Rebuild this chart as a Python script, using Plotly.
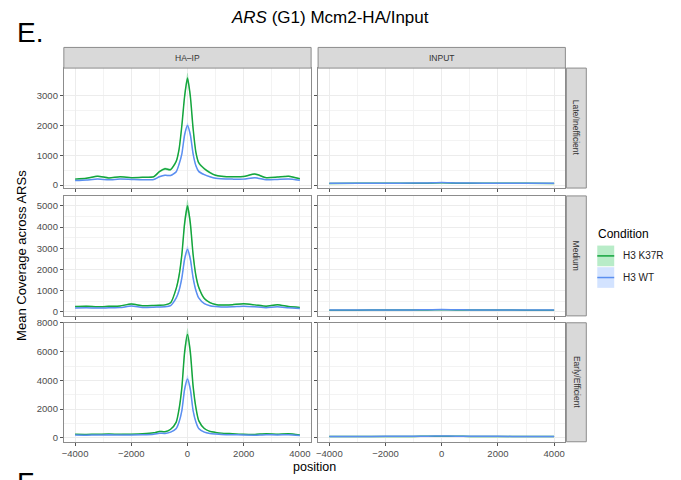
import plotly.graph_objects as go

# ---------------- data ----------------
positions = [-4000, -3600, -3200, -2800, -2400, -2000, -1600, -1200, -1000, -800, -600,
             -400, -300, -200, -100, 0, 100, 200, 300, 400, 600, 800, 1000, 1200,
             1600, 2000, 2400, 2800, 3200, 3600, 4000]

row_labels = ["Late/Inefficient", "Medium", "Early/Efficient"]
col_labels = ["HA\u2013IP", "INPUT"]
conditions = ["H3 K37R", "H3 WT"]

# HA-IP mean coverage
haip_late_k37r = [200, 230, 300, 240, 280, 250, 260, 280, 450, 550, 520, 800, 1200, 2000, 3000, 3600,
                  3000, 1900, 1100, 750, 550, 420, 330, 300, 280, 290, 370, 250, 270, 300, 210]
haip_late_wt = [150, 170, 200, 180, 200, 190, 180, 190, 280, 330, 320, 450, 700, 1050, 1700, 2000,
                1700, 1050, 650, 460, 350, 280, 230, 210, 200, 200, 250, 180, 190, 200, 160]
haip_med_k37r = [240, 260, 230, 250, 270, 360, 280, 290, 300, 320, 420, 1100, 1700, 2700, 4200, 5000,
                 4200, 2700, 1700, 1150, 620, 430, 340, 310, 330, 370, 320, 260, 330, 240, 200]
haip_med_wt = [170, 180, 170, 180, 190, 270, 200, 210, 220, 230, 290, 650, 1000, 1600, 2500, 2950,
               2500, 1600, 1000, 650, 380, 280, 240, 220, 230, 260, 230, 190, 230, 180, 150]
haip_early_k37r = [250, 240, 250, 270, 250, 260, 280, 350, 450, 430, 600, 1100, 2000, 3500, 6000, 7200,
                   6000, 3600, 2100, 1200, 650, 450, 380, 330, 290, 250, 240, 290, 260, 290, 200]
haip_early_wt = [200, 190, 200, 210, 200, 200, 210, 250, 320, 310, 400, 650, 1100, 1900, 3400, 4100,
                 3400, 1900, 1100, 650, 400, 310, 270, 240, 220, 200, 190, 220, 200, 220, 160]

# ribbon half-widths (standard error)
se_late_k37r = [20, 20, 25, 20, 20, 20, 20, 20, 35, 40, 40, 60, 90, 120, 150, 170,
                150, 120, 90, 60, 40, 35, 25, 25, 20, 20, 30, 20, 20, 25, 20]
se_late_wt = [12, 12, 15, 12, 12, 12, 12, 12, 20, 25, 25, 35, 50, 70, 90, 100,
              90, 70, 50, 35, 25, 20, 15, 15, 12, 12, 18, 12, 12, 15, 12]
se_med_k37r = [25, 25, 25, 25, 25, 35, 25, 25, 30, 30, 40, 90, 140, 200, 260, 300,
               260, 200, 140, 90, 50, 40, 30, 30, 30, 35, 30, 25, 30, 25, 20]
se_med_wt = [15, 15, 15, 15, 15, 22, 15, 15, 18, 18, 24, 55, 80, 120, 160, 180,
             160, 120, 80, 55, 30, 24, 18, 18, 18, 22, 18, 15, 18, 15, 12]
se_early_k37r = [25, 25, 25, 25, 25, 25, 25, 30, 40, 40, 55, 100, 170, 280, 400, 450,
                 400, 280, 170, 100, 55, 40, 35, 30, 25, 25, 25, 25, 25, 25, 20]
se_early_wt = [15, 15, 15, 15, 15, 15, 15, 18, 25, 25, 35, 60, 100, 170, 240, 270,
               240, 170, 100, 60, 35, 25, 20, 18, 15, 15, 15, 15, 15, 15, 12]

# INPUT mean coverage
input_positions = [-4000, -3000, -2000, -1000, -500, 0, 500, 1000, 2000, 3000, 4000]
input_late_k37r = [55, 57, 58, 60, 65, 75, 65, 60, 58, 57, 55]
input_late_wt = [60, 62, 63, 66, 70, 85, 70, 66, 63, 62, 60]
input_med_k37r = [70, 72, 74, 76, 80, 90, 80, 76, 74, 72, 70]
input_med_wt = [75, 77, 79, 82, 88, 100, 88, 82, 79, 77, 74]
input_early_k37r = [95, 97, 99, 102, 108, 120, 108, 102, 99, 97, 95]
input_early_wt = [100, 102, 105, 108, 115, 130, 115, 108, 105, 102, 100]
input_se = [6, 6, 6, 6, 7, 8, 7, 6, 6, 6, 6]

y_ranges = [[-100, 3930], [-200, 5470], [-270, 8010]]
y_ticks = [[0, 1000, 2000, 3000], [0, 1000, 2000, 3000, 4000, 5000], [0, 2000, 4000, 6000, 8000]]
x_ticks = [-4000, -2000, 0, 2000, 4000]

# ---------------- styling ----------------
W, H = 681, 480
OFF = 8  # page body margin offsets the figure by 8px
line_colors = ["#14a53d", "#5b8ff0"]
fill_colors = ["rgba(0,186,56,0.28)", "rgba(97,156,255,0.28)"]
FONT = "Liberation Sans, Arial, sans-serif"

col_px = [(62, 310), (317, 565)]
row_px = [(63, 185), (193, 315), (322, 443)]


def px_x(v):
    return (v - OFF) / W


def px_y(v):
    return 1 - (v - OFF) / H


def label(text, x, y, size, color="#000000", xanchor="center", yanchor="middle", angle=0):
    return dict(text=text, xref="paper", yref="paper", x=px_x(x), y=px_y(y),
                xanchor=xanchor, yanchor=yanchor, showarrow=False, textangle=angle,
                font=dict(family=FONT, size=size, color=color))


panel_data = [
    [([haip_late_k37r, haip_late_wt], [se_late_k37r, se_late_wt], positions),
     ([input_late_k37r, input_late_wt], [input_se, input_se], input_positions)],
    [([haip_med_k37r, haip_med_wt], [se_med_k37r, se_med_wt], positions),
     ([input_med_k37r, input_med_wt], [input_se, input_se], input_positions)],
    [([haip_early_k37r, haip_early_wt], [se_early_k37r, se_early_wt], positions),
     ([input_early_k37r, input_early_wt], [input_se, input_se], input_positions)],
]

fig = go.Figure()
layout_axes = {}
shapes = []
annotations = []

for r in range(3):
    for c in range(2):
        n = r * 2 + c + 1
        xname = "x" if n == 1 else f"x{n}"
        yname = "y" if n == 1 else f"y{n}"
        vals, ses, xs = panel_data[r][c]
        # ribbons
        for k in range(2):
            lower = [v - s for v, s in zip(vals[k], ses[k])]
            upper = [v + s for v, s in zip(vals[k], ses[k])]
            fig.add_trace(go.Scatter(x=xs, y=lower, mode="lines", line=dict(width=0, shape="spline", smoothing=0.6),
                                     xaxis=xname, yaxis=yname, showlegend=False, hoverinfo="skip"))
            fig.add_trace(go.Scatter(x=xs, y=upper, mode="lines", line=dict(width=0, shape="spline", smoothing=0.6),
                                     fill="tonexty", fillcolor=fill_colors[k],
                                     xaxis=xname, yaxis=yname, showlegend=False, hoverinfo="skip"))
        # lines
        for k in range(2):
            fig.add_trace(go.Scatter(x=xs, y=vals[k], mode="lines", name=conditions[k],
                                     line=dict(color=line_colors[k], width=1.5, shape="spline", smoothing=0.6),
                                     xaxis=xname, yaxis=yname, showlegend=False))

        x0, x1 = col_px[c]
        y0, y1 = row_px[r]
        axis_common = dict(showline=True, mirror=True, linecolor="#8c8c8c", linewidth=1,
                           showgrid=True, gridcolor="#ececec", gridwidth=0.8,
                           zeroline=False, ticks="outside", ticklen=3, tickcolor="#555555",
                           tickfont=dict(family=FONT, size=9.5, color="#4d4d4d"))
        layout_axes["xaxis" if n == 1 else f"xaxis{n}"] = dict(
            axis_common, domain=[px_x(x0), px_x(x1)], anchor=yname, range=[-4400, 4400],
            tickvals=x_ticks, showticklabels=(r == 2),
            minor=dict(tickvals=[-3000, -1000, 1000, 3000], showgrid=True, gridcolor="#f3f3f3", gridwidth=0.5, ticks=""))
        layout_axes["yaxis" if n == 1 else f"yaxis{n}"] = dict(
            axis_common, domain=[px_y(y1), px_y(y0)], anchor=xname, range=y_ranges[r],
            tickvals=y_ticks[r], showticklabels=(c == 0),
            minor=dict(tickvals=[t + (y_ticks[r][1] - y_ticks[r][0]) / 2 for t in y_ticks[r][:-1]],
                       showgrid=True, gridcolor="#f3f3f3", gridwidth=0.5, ticks=""))

# top strips
for c in range(2):
    x0, x1 = col_px[c]
    shapes.append(dict(type="rect", xref="paper", yref="paper", x0=px_x(x0), x1=px_x(x1),
                       y0=px_y(63), y1=px_y(42), fillcolor="#d9d9d9",
                       line=dict(color="#8c8c8c", width=1), layer="above"))
    annotations.append(label(col_labels[c], (x0 + x1) / 2, 52.5, 8.5, "#333333"))
# right strips
for r in range(3):
    y0, y1 = row_px[r]
    shapes.append(dict(type="rect", xref="paper", yref="paper", x0=px_x(566), x1=px_x(586),
                       y0=px_y(y1), y1=px_y(y0), fillcolor="#d9d9d9",
                       line=dict(color="#8c8c8c", width=1), layer="above"))
    annotations.append(label(row_labels[r], 576, (y0 + y1) / 2, 8.5, "#333333", angle=90))

# titles
annotations.append(label("<i>ARS</i> (G1) Mcm2-HA/Input", 329, 12, 17))
annotations.append(label("E.", 13, 27, 28, xanchor="left"))
annotations.append(label("F.", 13, 467, 28, xanchor="left", yanchor="top"))
annotations.append(label("position", 313.5, 469, 12.5))
annotations.append(label("Mean Coverage across ARSs", 20, 253, 13, angle=-90))

# legend (drawn manually)
annotations.append(label("Condition", 596, 232, 12, xanchor="left"))
key_centers = [254, 276]
for k in range(2):
    cy = key_centers[k]
    shapes.append(dict(type="rect", xref="paper", yref="paper", x0=px_x(597), x1=px_x(614),
                       y0=px_y(cy + 10.5), y1=px_y(cy - 10.5), fillcolor=fill_colors[k], line=dict(width=0)))
    shapes.append(dict(type="line", xref="paper", yref="paper", x0=px_x(597), x1=px_x(614),
                       y0=px_y(cy), y1=px_y(cy), line=dict(color=line_colors[k], width=1.5)))
    annotations.append(label(conditions[k], 621, cy, 10, "#222222", xanchor="left"))

fig.update_layout(width=W, height=H, margin=dict(l=0, r=0, t=0, b=0),
                  paper_bgcolor="white", plot_bgcolor="white", showlegend=False,
                  shapes=shapes, annotations=annotations, **layout_axes)

fig.write_html("out.html")
